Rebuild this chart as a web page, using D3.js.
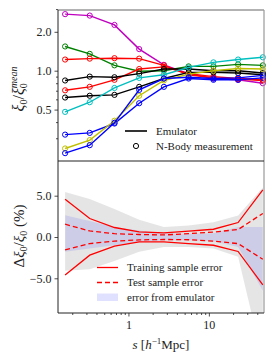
<!DOCTYPE html>
<html>
<head>
<meta charset="utf-8">
<script src="https://cdn.jsdelivr.net/npm/d3@7"></script>
<style>
body { margin: 0; background: #fff; }
text { font-family: "Liberation Serif", serif; fill: #222; }
</style>
</head>
<body>
<svg id="chart" width="274" height="356"></svg>
<script>

// separation bins (h^-1 Mpc)
var sVals = [0.163, 0.33, 0.67, 1.36, 2.76, 5.6, 11.4, 23.1, 46.9];

// top panel: xi0 / xi0_mean for the test cosmologies
var seriesColors = ["#bf00bf", "#008000", "#ff0000", "#ff0000", "#000000",
    "#000000", "#00bfbf", "#0000ff", "#bfbf00", "#0000ff"];
var ratioMagenta = [2.74, 2.67, 2.26, 1.47, 1.11, 0.95, 0.87, 0.85, 0.80];
var ratioGreen   = [1.54, 1.35, 1.10, 0.99, 1.00, 1.08, 1.08, 1.12, 1.10];
var ratioRed1    = [1.22, 1.24, 1.25, 1.24, 1.10, 0.93, 0.88, 0.86, 0.84];
var ratioRed2    = [0.705, 0.75, 0.85, 1.03, 1.07, 0.95, 0.90, 0.87, 0.85];
var ratioBlack1  = [0.84, 0.90, 0.89, 0.95, 1.03, 1.03, 1.00, 1.00, 0.96];
var ratioBlack2  = [0.62, 0.64, 0.65, 0.75, 0.87, 0.97, 0.97, 0.96, 0.93];
var ratioCyan    = [0.48, 0.57, 0.735, 0.88, 0.93, 1.06, 1.16, 1.22, 1.27];
var ratioBlue1   = [0.32, 0.33, 0.39, 0.56, 0.75, 0.87, 0.85, 0.85, 0.88];
var ratioYellow  = [0.25, 0.29, 0.41, 0.64, 0.84, 0.94, 1.00, 1.04, 1.03];
var ratioBlue2   = [0.23, 0.265, 0.395, 0.71, 0.87, 0.89, 0.87, 0.88, 0.92];
var ratioSeries = [ratioMagenta, ratioGreen, ratioRed1, ratioRed2, ratioBlack1,
    ratioBlack2, ratioCyan, ratioBlue1, ratioYellow, ratioBlue2];

// bottom panel: errors in percent
var trainHi = [4.56, 2.24, 1.15, 0.61, 0.49, 0.70, 0.94, 1.75, 5.7];
var trainLo = [-4.6, -2.2, -1.1, -0.6, -0.6, -0.8, -1.0, -1.75, -5.8];
var testHi  = [1.55, 0.73, 0.40, 0.30, 0.25, 0.40, 0.60, 0.90, 2.85];
var testLo  = [-1.55, -0.8, -0.5, -0.35, -0.3, -0.33, -0.5, -0.8, -2.7];
var emuHi   = [2.63, 1.94, 1.2, 0.8, 0.45, 0.4, 0.45, 1.2, 1.2];
var emuLo   = [-1.8, -1.4, -1.0, -0.6, -0.4, -0.4, -0.5, -1.2, -6.5];
var grayHi  = [5.45, 4.6, 3.4, 2.1, 1.2, 1.4, 1.8, 2.6, 6.0];
var grayLo  = [-4.1, -3.9, -2.9, -1.8, -1.2, -1.2, -1.4, -2.4, -15];

// ticks
var topMajor = [0.5, 1, 2];
var topMajorLabels = ["0.5", "1.0", "2.0"];
var topMinor = [0.3, 0.4, 0.6, 0.7, 0.8, 0.9, 3];
var botMajor = [-5, 0, 5];
var botMajorLabels = ["\u22125.0", "0.0", "5.0"];
var xMajor = [1, 10];
var xMajorLabels = ["1", "10"];
var xMinor = [0.2, 0.3, 0.4, 0.5, 0.6, 0.7, 0.8, 0.9, 2, 3, 4, 5, 6, 7, 8, 9, 20, 30, 40];

var topLegend = ["Emulator", "N-Body measurement"];
var botLegend = ["Training sample error", "Test sample error", "error from emulator"];

var padL = 58, padR = 264, padT = 10, padM = 161, padB = 313;

var svg = d3.select("#chart");

var x = d3.scaleLog().domain([0.133, 48.5]).range([padL, padR]);
var yTop = d3.scaleLog().domain([0.2, 2.95]).range([padM, padT]);
var yBot = d3.scaleLinear().domain([-9.2, 9.2]).range([padB, padM]);

var defs = svg.append("defs");
defs.append("clipPath").attr("id", "clipBot")
  .append("rect").attr("x", padL).attr("y", padM)
  .attr("width", padR - padL).attr("height", padB - padM);
defs.append("clipPath").attr("id", "clipTop")
  .append("rect").attr("x", padL).attr("y", padT)
  .attr("width", padR - padL + 3).attr("height", padM - padT);

// ---------- bottom panel bands
var bandArea = function(hi, lo) {
    return d3.area()
      .x(function(d, i) { return x(sVals[i]); })
      .y0(function(d, i) { return yBot(lo[i]); })
      .y1(function(d, i) { return yBot(hi[i]); })(sVals);
};
var gBot = svg.append("g").attr("clip-path", "url(#clipBot)");
gBot.append("path").attr("d", bandArea(grayHi, grayLo))
  .attr("fill", "#000").attr("fill-opacity", 0.1);
gBot.append("path").attr("d", bandArea(emuHi, emuLo))
  .attr("fill", "#0000ff").attr("fill-opacity", 0.1);

var botLine = function(vals) {
    return d3.line()
      .x(function(d, i) { return x(sVals[i]); })
      .y(function(d, i) { return yBot(vals[i]); })(sVals);
};
[[trainHi, null], [trainLo, null], [testHi, "5,3"], [testLo, "5,3"]].forEach(function(p) {
    gBot.append("path").attr("d", botLine(p[0]))
      .attr("fill", "none").attr("stroke", "#ff0000").attr("stroke-width", 1.3)
      .attr("stroke-dasharray", p[1]);
});

// ---------- top panel lines + markers
var gTop = svg.append("g").attr("clip-path", "url(#clipTop)");
ratioSeries.forEach(function(vals, k) {
    var line = d3.line()
      .x(function(d, i) { return x(sVals[i]); })
      .y(function(d) { return yTop(d); });
    gTop.append("path").attr("d", line(vals))
      .attr("fill", "none").attr("stroke", seriesColors[k]).attr("stroke-width", 1.4);
    gTop.selectAll(null).data(vals).enter().append("circle")
      .attr("cx", function(d, i) { return x(sVals[i]); })
      .attr("cy", function(d) { return yTop(d); })
      .attr("r", 2.6)
      .attr("fill", "none").attr("stroke", seriesColors[k]).attr("stroke-width", 1);
});

// ---------- axes
function styleAxis(g) {
    g.select(".domain").remove();
    g.selectAll("line").attr("stroke", "#222").attr("stroke-width", 0.8);
    g.selectAll("text").attr("font-size", "12px").attr("fill", "#333")
      .style("font-family", '"Liberation Serif", serif');
}

svg.append("g").attr("transform", "translate(" + padL + ",0)")
  .call(d3.axisLeft(yTop).tickValues(topMajor).tickSize(3.5).tickPadding(3)
    .tickFormat(function(d, i) { return topMajorLabels[i]; }))
  .call(styleAxis);
svg.append("g").attr("transform", "translate(" + padL + ",0)")
  .call(d3.axisLeft(yTop).tickValues(topMinor).tickSize(2).tickFormat(""))
  .call(styleAxis);

svg.append("g").attr("transform", "translate(" + padL + ",0)")
  .call(d3.axisLeft(yBot).tickValues(botMajor).tickSize(3.5).tickPadding(3)
    .tickFormat(function(d, i) { return botMajorLabels[i]; }))
  .call(styleAxis);

svg.append("g").attr("transform", "translate(0," + padB + ")")
  .call(d3.axisBottom(x).tickValues(xMajor).tickSize(3.5).tickPadding(4)
    .tickFormat(function(d, i) { return xMajorLabels[i]; }))
  .call(styleAxis);
svg.append("g").attr("transform", "translate(0," + padB + ")")
  .call(d3.axisBottom(x).tickValues(xMinor).tickSize(2).tickFormat(""))
  .call(styleAxis);

// spines
svg.append("line").attr("x1", padL).attr("x2", padR).attr("y1", padT).attr("y2", padT)
  .attr("stroke", "#999").attr("stroke-width", 1.6);
svg.append("line").attr("x1", padR).attr("x2", padR).attr("y1", padT).attr("y2", padB)
  .attr("stroke", "#999").attr("stroke-width", 1.2);
svg.append("line").attr("x1", padL).attr("x2", padL).attr("y1", padT).attr("y2", padB)
  .attr("stroke", "#222").attr("stroke-width", 1);
svg.append("line").attr("x1", padL).attr("x2", padR).attr("y1", padM).attr("y2", padM)
  .attr("stroke", "#222").attr("stroke-width", 1);
svg.append("line").attr("x1", padL).attr("x2", padR).attr("y1", padB).attr("y2", padB)
  .attr("stroke", "#222").attr("stroke-width", 1);

// ---------- legends
var lgTop = svg.append("g");
lgTop.append("line").attr("x1", 125).attr("x2", 147).attr("y1", 131).attr("y2", 131)
  .attr("stroke", "#000").attr("stroke-width", 1.6);
lgTop.append("circle").attr("cx", 136).attr("cy", 146).attr("r", 2.6)
  .attr("fill", "none").attr("stroke", "#000").attr("stroke-width", 1);
topLegend.forEach(function(t, i) {
    lgTop.append("text").attr("x", 156).attr("y", 131 + i * 15).attr("dy", "0.35em")
      .attr("font-size", "11px").text(t);
});

var lgBot = svg.append("g");
lgBot.append("line").attr("x1", 97).attr("x2", 118).attr("y1", 267.5).attr("y2", 267.5)
  .attr("stroke", "#ff0000").attr("stroke-width", 1.3);
lgBot.append("line").attr("x1", 97).attr("x2", 118).attr("y1", 282.5).attr("y2", 282.5)
  .attr("stroke", "#ff0000").attr("stroke-width", 1.3).attr("stroke-dasharray", "5,3");
lgBot.append("rect").attr("x", 97).attr("y", 293.5).attr("width", 21).attr("height", 7.5)
  .attr("fill", "#0000ff").attr("fill-opacity", 0.12);
botLegend.forEach(function(t, i) {
    lgBot.append("text").attr("x", 127).attr("y", 267.5 + i * 15).attr("dy", "0.35em")
      .attr("font-size", "11px").text(t);
});

// ---------- axis labels
var yl1 = svg.append("text").attr("transform", "translate(24,89) rotate(-90)")
  .attr("text-anchor", "middle").attr("font-size", "16px");
yl1.append("tspan").attr("font-style", "italic").text("\u03be");
yl1.append("tspan").attr("font-size", "10px").attr("dy", 3).text("0");
yl1.append("tspan").attr("dy", -3).text("/");
yl1.append("tspan").attr("font-style", "italic").text("\u03be");
yl1.append("tspan").attr("font-size", "10px").attr("dy", 3).text("0");
yl1.append("tspan").attr("font-size", "10px").attr("font-style", "italic")
  .attr("dx", -5).attr("dy", -10).text("mean");

var yl2 = svg.append("text").attr("transform", "translate(24,236) rotate(-90)")
  .attr("text-anchor", "middle").attr("font-size", "15px");
yl2.append("tspan").text("\u0394");
yl2.append("tspan").attr("font-style", "italic").text("\u03be");
yl2.append("tspan").attr("font-size", "10px").attr("dy", 3).text("0");
yl2.append("tspan").attr("dy", -3).text("/");
yl2.append("tspan").attr("font-style", "italic").text("\u03be");
yl2.append("tspan").attr("font-size", "10px").attr("dy", 3).text("0");
yl2.append("tspan").attr("dy", -3).text(" (%)");

var xl = svg.append("text").attr("x", 161).attr("y", 349)
  .attr("text-anchor", "middle").attr("font-size", "13px");
xl.append("tspan").attr("font-style", "italic").text("s");
xl.append("tspan").text(" [");
xl.append("tspan").attr("font-style", "italic").text("h");
xl.append("tspan").attr("font-size", "9px").attr("dy", -5).text("\u22121");
xl.append("tspan").attr("dy", 5).text("Mpc]");

</script>
</body>
</html>
